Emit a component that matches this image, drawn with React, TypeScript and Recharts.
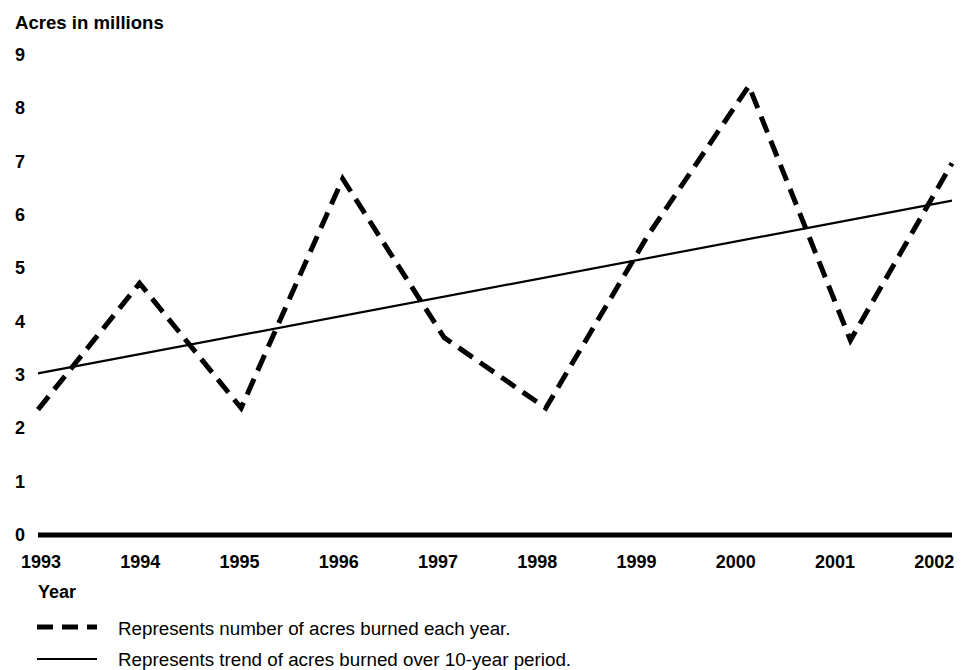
import { LineChart, Line, XAxis, YAxis } from "recharts";

// Values
const years = [1993, 1994, 1995, 1996, 1997, 1998, 1999, 2000, 2001, 2002];
const acresBurned = [2.35, 4.72, 2.38, 6.68, 3.7, 2.38, 5.6, 8.42, 3.65, 6.97];
const trendYears = [1993, 2002];
const trendValues = [3.03, 6.27];
const yTicks = [0, 1, 2, 3, 4, 5, 6, 7, 8, 9];

const font = '"Liberation Sans", Arial, Helvetica, sans-serif';

const data = years.map((year, i) => ({ year, acres: acresBurned[i] }));
const trendData = trendYears.map((year, i) => ({ year, trend: trendValues[i] }));

const YTick = (props: any) => {
  const { y, payload } = props;
  return (
    <text x={15} y={y + 6} fontFamily={font} fontSize={18} fontWeight="bold" fill="#000">
      {payload.value}
    </text>
  );
};

const XTick = (props: any) => {
  const { x, payload, index } = props;
  // labels sit on a slightly narrower spacing than the plotted points
  const shift = 3 - 2.3 * index;
  return (
    <text
      x={x + shift}
      y={568}
      textAnchor="middle"
      fontFamily={font}
      fontSize={18}
      fontWeight="bold"
      fill="#000"
    >
      {payload.value}
    </text>
  );
};

const App = () => {
  return (
    <div style={{ position: "absolute", left: 0, top: 0, width: 963, height: 670, background: "#fff" }}>
      <LineChart
        width={963}
        height={670}
        data={data}
        margin={{ top: 55, right: 11, bottom: 105, left: 0 }}
      >
        <XAxis
          dataKey="year"
          type="number"
          domain={[1993, 2002]}
          ticks={years}
          height={30}
          tick={<XTick />}
          tickLine={false}
          axisLine={{ stroke: "#000", strokeWidth: 5 }}
          interval={0}
        />
        <YAxis
          domain={[0, 9]}
          ticks={yTicks}
          width={38}
          tick={<YTick />}
          tickLine={false}
          axisLine={false}
          interval={0}
        />
        <Line
          data={trendData}
          dataKey="trend"
          type="linear"
          stroke="#000"
          strokeWidth={2.2}
          dot={false}
          activeDot={false}
          isAnimationActive={false}
        />
        <Line
          dataKey="acres"
          type="linear"
          stroke="#000"
          strokeWidth={5}
          strokeDasharray="17 9"
          dot={false}
          activeDot={false}
          isAnimationActive={false}
        />
      </LineChart>
      <svg
        width={963}
        height={670}
        style={{ position: "absolute", left: 0, top: 0, pointerEvents: "none" }}
      >
        <text x={15} y={29} fontFamily={font} fontSize={18.6} fontWeight="bold" fill="#000">
          Acres in millions
        </text>
        <text x={38} y={598} fontFamily={font} fontSize={18} fontWeight="bold" fill="#000">
          Year
        </text>
        <line x1={37} y1={627} x2={97} y2={627} stroke="#000" strokeWidth={5} strokeDasharray="16 9" />
        <text x={118} y={635} fontFamily={font} fontSize={18.8} fill="#000">
          Represents number of acres burned each year.
        </text>
        <line x1={37} y1={659} x2={97} y2={659} stroke="#000" strokeWidth={2.2} />
        <text x={118} y={666} fontFamily={font} fontSize={18.8} fill="#000">
          Represents trend of acres burned over 10-year period.
        </text>
      </svg>
    </div>
  );
};

export default App;
